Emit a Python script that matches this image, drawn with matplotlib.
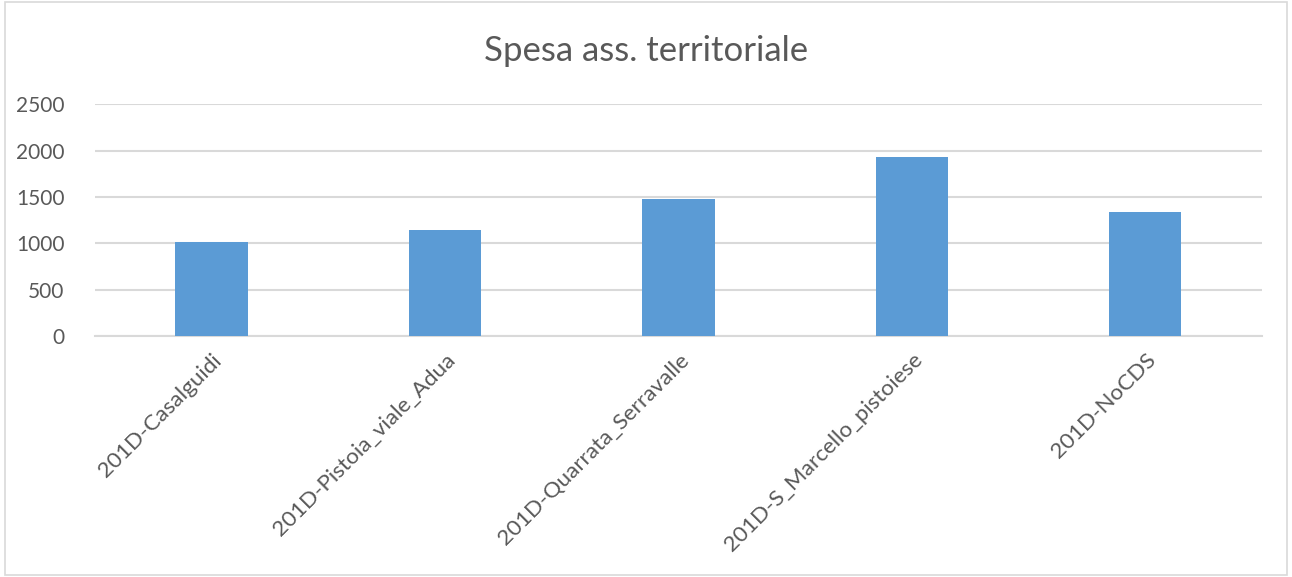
import matplotlib.pyplot as plt
from matplotlib.patches import Rectangle

# data
categories = ["201D-Casalguidi", "201D-Pistoia_viale_Adua", "201D-Quarrata_Serravalle",
              "201D-S_Marcello_pistoiese", "201D-NoCDS"]
spesa = [1015, 1150, 1480, 1932, 1335]
y_ticks = [0, 500, 1000, 1500, 2000, 2500]

plt.rcParams['font.family'] = ['Lato', 'DejaVu Sans']

fig = plt.figure(figsize=(12.92, 5.77), dpi=100)
ax = fig.add_axes([0.0735, 0.4177, 0.9033, 0.4012])

x = list(range(len(categories)))
ax.bar(x, spesa, width=0.31, color='#5b9bd5', zorder=3)

ax.set_xlim(-0.5, len(categories) - 0.5)
ax.set_ylim(0, 2500)
ax.set_yticks(y_ticks)
ax.set_xticks(x)
ax.set_xticklabels(categories, rotation=45, ha='right', rotation_mode='anchor')
ax.grid(axis='y', color='#d9d9d9', linewidth=1.5, zorder=0)
ax.tick_params(axis='both', length=0, labelcolor='#595959')
ax.tick_params(axis='y', pad=22, labelsize=15)
ax.tick_params(axis='x', pad=10, labelsize=16.2)
for side in ['left', 'right', 'top']:
    ax.spines[side].set_visible(False)
ax.spines['bottom'].set_color('#d9d9d9')
ax.spines['bottom'].set_linewidth(1.5)

fig.text(0.5, 0.912, "Spesa ass. territoriale", ha='center', va='center',
         fontsize=25, color='#595959')

# chart border
fig.patches.append(Rectangle((0.004, 0.004), 0.992, 0.992, transform=fig.transFigure,
                             fill=False, edgecolor='#d9d9d9', linewidth=1.2))

fig.savefig("out.png", dpi=100)
